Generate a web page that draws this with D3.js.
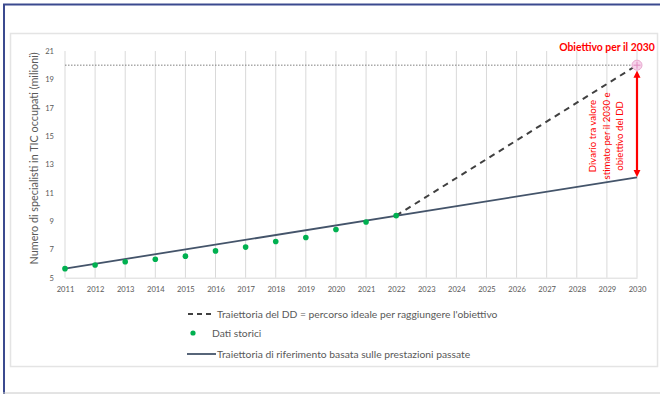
<!DOCTYPE html>
<html>
<head>
<meta charset="utf-8">
<script src="https://cdn.jsdelivr.net/npm/d3@7"></script>
<style>
  html, body { margin: 0; padding: 0; background: #fff; }
  svg { display: block; font-family: Lato, "Open Sans", sans-serif; }
</style>
</head>
<body>
<svg id="chart" width="660" height="394"></svg>
<script>
// Historic ICT specialists in employment (millions)
const years = [2011, 2012, 2013, 2014, 2015, 2016, 2017, 2018, 2019, 2020, 2021, 2022];
const historic = [5.64, 5.90, 6.13, 6.30, 6.52, 6.89, 7.16, 7.55, 7.84, 8.40, 8.93, 9.38];

// Baseline trajectory from past performance (endpoints)
const baselineYears = [2011, 2030];
const baselineValues = [5.64, 12.08];

// Digital Decade ideal path (endpoints)
const ddYears = [2022, 2030];
const ddValues = [9.38, 20];

// 2030 target
const targetYear = 2030;
const targetValue = 20;

const xTicks = d3.range(2011, 2031);
const yTicks = [5, 7, 9, 11, 13, 15, 17, 19, 21];

const legendLabels = [
  "Traiettoria del DD = percorso ideale per raggiungere l'obiettivo",
  "Dati storici",
  "Traiettoria di riferimento basata sulle prestazioni passate"
];
const yTitle = "Numero di specialisti in TIC occupati (milioni)";
const targetLabel = "Obiettivo per il 2030";
const gapLabel = ["Divario tra valore", "stimato per il 2030 e", "obiettivo del DD"];

const svg = d3.select("#chart");
const textGray = "#595959";
const lineNavy = "#44546a";
const green = "#00b050";
const red = "#ff0000";

// frame
svg.append("line").attr("x1", 3).attr("x2", 660).attr("y1", 4.5).attr("y2", 4.5)
  .attr("stroke", "#3b4a8f").attr("stroke-width", 2);
svg.append("line").attr("x1", 4).attr("x2", 4).attr("y1", 4).attr("y2", 394)
  .attr("stroke", "#3b4a8f").attr("stroke-width", 2);
svg.append("line").attr("x1", 3).attr("x2", 660).attr("y1", 393).attr("y2", 393)
  .attr("stroke", "#c8c8c8").attr("stroke-width", 1);
svg.append("rect").attr("x", 10.5).attr("y", 33.5).attr("width", 647).attr("height", 333)
  .attr("fill", "#fff").attr("stroke", "#e4e4e4").attr("stroke-width", 1.5);

const x = d3.scaleLinear().domain([2011, 2030]).range([65, 637]);
const y = d3.scaleLinear().domain([5, 21]).range([277.7, 51]);

// vertical gridlines
svg.append("g").selectAll("line").data(xTicks).join("line")
  .attr("x1", d => x(d)).attr("x2", d => x(d))
  .attr("y1", y(21)).attr("y2", y(5))
  .attr("stroke", "#d9d9d9").attr("stroke-width", 1);

// x axis
const xAxis = svg.append("g").attr("transform", `translate(0,${y(5)})`)
  .call(d3.axisBottom(x).tickValues(xTicks).tickFormat(d3.format("d")).tickSize(0).tickPadding(9));
xAxis.select(".domain").attr("stroke", "#d9d9d9");
xAxis.selectAll("text").attr("fill", textGray).style("font-size", "7.6px").style("font-family", "Lato, sans-serif");

// y axis
const yAxis = svg.append("g").attr("transform", `translate(${x(2011)},0)`)
  .call(d3.axisLeft(y).tickValues(yTicks).tickSize(0).tickPadding(11));
yAxis.select(".domain").remove();
yAxis.selectAll("text").attr("fill", textGray).style("font-size", "7.6px").style("font-family", "Lato, sans-serif");

// y title
svg.append("text")
  .attr("transform", `translate(38,${(y(5) + y(21)) / 2 - 6}) rotate(-90)`)
  .attr("text-anchor", "middle").attr("fill", textGray)
  .style("font-size", "10.8px").text(yTitle);

// target dotted line
svg.append("line")
  .attr("x1", x(2011)).attr("x2", x(targetYear))
  .attr("y1", y(targetValue)).attr("y2", y(targetValue))
  .attr("stroke", "#7f7f7f").attr("stroke-width", 1).attr("stroke-dasharray", "1.5,1.5");

const line = d3.line().x(d => x(d[0])).y(d => y(d[1]));

// baseline trajectory
svg.append("path")
  .attr("d", line(baselineYears.map((yr, i) => [yr, baselineValues[i]])))
  .attr("fill", "none").attr("stroke", lineNavy).attr("stroke-width", 1.8);

// DD trajectory
svg.append("path")
  .attr("d", line(ddYears.map((yr, i) => [yr, ddValues[i]])))
  .attr("fill", "none").attr("stroke", "#404040").attr("stroke-width", 2)
  .attr("stroke-dasharray", "6,5");

// historic points
svg.append("g").selectAll("circle").data(years).join("circle")
  .attr("cx", d => x(d)).attr("cy", (d, i) => y(historic[i]))
  .attr("r", 2.8).attr("fill", green);

// target marker
const tx = x(targetYear), ty = y(targetValue);
svg.append("circle").attr("cx", tx).attr("cy", ty).attr("r", 5)
  .attr("fill", "#f6d3ea").attr("stroke", "#e8a9cf").attr("stroke-width", 1);
svg.append("path")
  .attr("d", `M${tx - 3.5},${ty}H${tx + 3.5}M${tx},${ty - 3.5}V${ty + 3.5}`)
  .attr("stroke", "#e08cc0").attr("stroke-width", 1);

// gap arrow
const defs = svg.append("defs");
defs.append("marker").attr("id", "arrowhead").attr("viewBox", "0 0 10 10")
  .attr("refX", 5).attr("refY", 5).attr("markerWidth", 3.2).attr("markerHeight", 3.2)
  .attr("orient", "auto-start-reverse")
  .append("path").attr("d", "M0,0L10,5L0,10z").attr("fill", red);
svg.append("line")
  .attr("x1", tx).attr("x2", tx)
  .attr("y1", y(targetValue) + 9).attr("y2", y(baselineValues[1]) - 4)
  .attr("stroke", red).attr("stroke-width", 2.2)
  .attr("marker-start", "url(#arrowhead)").attr("marker-end", "url(#arrowhead)");

// gap label
const gap = svg.append("text")
  .attr("transform", `translate(609.5,136) rotate(-90)`)
  .attr("text-anchor", "middle").attr("fill", red)
  .style("font-size", "9.6px");
gap.selectAll("tspan").data(gapLabel).join("tspan")
  .attr("x", 0).attr("dy", (d, i) => i === 0 ? "-1.4em" : "1.4em").text(d => d);

// target label
svg.append("text").attr("x", 607).attr("y", 51)
  .attr("text-anchor", "middle").attr("fill", red)
  .style("font-size", "10.4px").style("font-weight", "bold").text(targetLabel);

// legend
const lg = svg.append("g");
lg.append("line").attr("x1", 188).attr("x2", 215).attr("y1", 314).attr("y2", 314)
  .attr("stroke", "#404040").attr("stroke-width", 2).attr("stroke-dasharray", "5,4");
lg.append("circle").attr("cx", 193).attr("cy", 333).attr("r", 2.6).attr("fill", green);
lg.append("line").attr("x1", 187).attr("x2", 216).attr("y1", 354).attr("y2", 354)
  .attr("stroke", lineNavy).attr("stroke-width", 1.8);
const legendPos = [[217, 317.5], [212, 337], [217, 357.5]];
lg.selectAll("text.lab").data(legendLabels).join("text")
  .attr("class", "lab")
  .attr("x", (d, i) => legendPos[i][0]).attr("y", (d, i) => legendPos[i][1])
  .attr("fill", textGray).style("font-size", "10.3px").text(d => d);
</script>
</body>
</html>
